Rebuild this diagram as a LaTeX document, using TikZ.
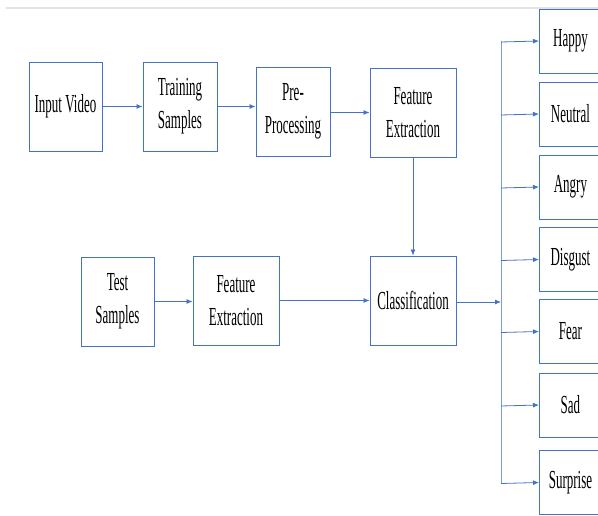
\documentclass[tikz,border=0pt]{standalone}
\usepackage{fontspec}
\setmainfont[FakeStretch=0.5]{Liberation Serif}
\usepackage{xcolor}
\usepackage{tikz}
\usetikzlibrary{positioning,calc,arrows.meta}

\definecolor{boxblue}{HTML}{4472C4}
\definecolor{topgray}{HTML}{E3E3E3}

\tikzset{
    stage/.style={draw=boxblue, line width=0.9pt, minimum width=74pt, minimum height=89pt,
        align=center, inner sep=2pt, font=\fontsize{26}{33}\selectfont},
    wide/.style={stage, minimum width=86pt},
    emo/.style={stage, minimum width=62pt, minimum height=64pt},
    flow/.style={draw=boxblue, line width=0.8pt, -{Latex[length=6pt,width=5pt]}},
    bus/.style={draw=boxblue!70, line width=0.8pt}
}

\begin{document}
\begin{tikzpicture}[x=1pt,y=-1pt]
    \useasboundingbox (0,0) rectangle (598,516);
    \clip (0,0) rectangle (598,516);
    \draw[topgray, line width=1.5pt] (6,8) -- (598,8);

    % Training path
    \node[stage, minimum width=73pt] (input) at (65.5,106.5) {Input Video};
    \node[stage] (train) at (180,106.5) {Training\\Samples};
    \node[stage] (prep) at (293,111.5) {Pre-\\Processing};
    \node[wide] (featA) at (413,112.5) {Feature\\Extraction};

    % Test path
    \node[stage, minimum width=73pt] (test) at (117.5,301.5) {Test\\Samples};
    \node[wide] (featB) at (236,300.5) {Feature\\Extraction};
    \node[wide] (cls) at (413,300.5) {Classification};

    \draw[flow] (input) -- (train.west |- input);
    \draw[flow] (train) -- (prep.west |- train);
    \draw[flow] (prep.east |- featA) -- (featA);
    \draw[flow] (featA) -- (cls);
    \draw[flow] (test) -- (featB.west |- test);
    \draw[flow] (featB) -- (cls);

    % Emotion classes
    \coordinate (busT) at (501,41);
    \coordinate (busB) at (501,482.5);
    \coordinate (busM) at (501,302);
    \draw[bus] (busT) -- (busB);
    \draw[flow] (cls.east |- busM) -- (busM);
    \foreach \name/\txt/\yy in {happy/Happy/41, neutral/Neutral/114, angry/Angry/187,
        disgust/Disgust/259.5, fear/Fear/331.5, sad/Sad/405, surprise/Surprise/482.5} {
        \node[emo, anchor=west] (\name) at (539,\yy) {\txt};
        \draw[flow] (501,\yy+1) -- (\name.west);
    }
\end{tikzpicture}
\end{document}
